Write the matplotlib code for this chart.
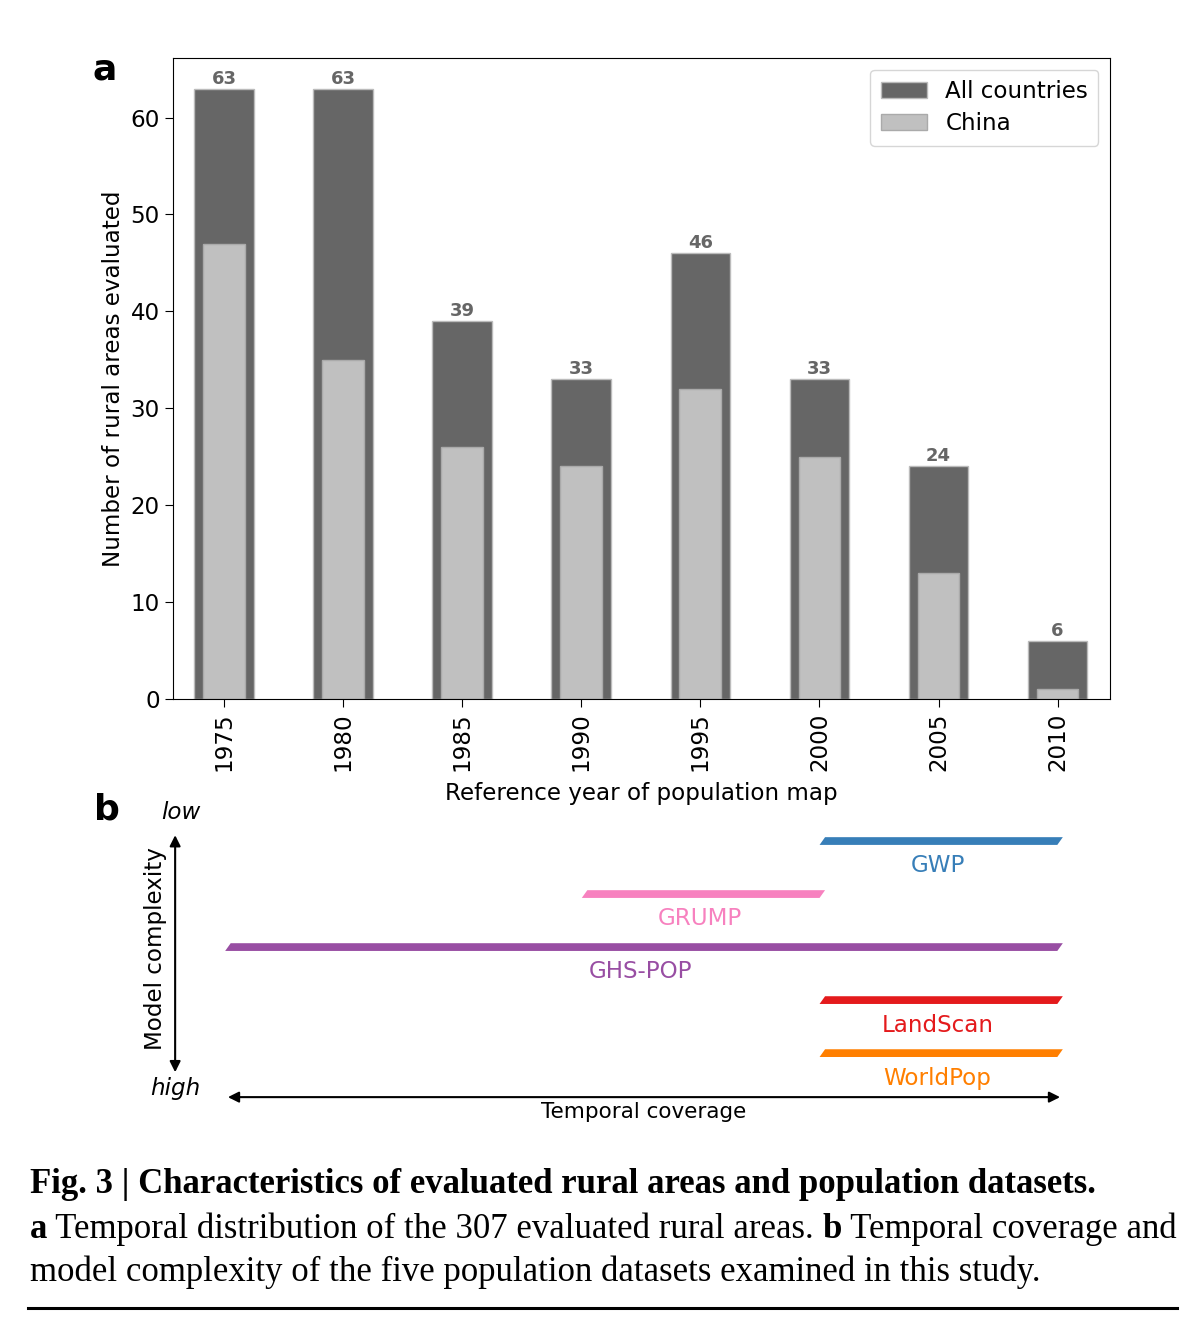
import matplotlib
matplotlib.use("Agg")
import matplotlib.pyplot as plt
from matplotlib.patches import Polygon

## データ
years = [1975, 1980, 1985, 1990, 1995, 2000, 2005, 2010]
all_countries = [63, 63, 39, 33, 46, 33, 24, 6]
china = [47, 35, 26, 24, 32, 25, 13, 1]

datasets = ["GWP", "GRUMP", "GHS-POP", "LandScan", "WorldPop"]
start_year = [2000, 1990, 1975, 2000, 2000]
end_year = [2010, 2000, 2010, 2010, 2010]
ds_colors = ["#377eb8", "#f781bf", "#984ea3", "#e41a1c", "#ff7f00"]

W, H = 1195, 1320
FS = 16.6
plt.rcParams["font.family"] = ["DejaVu Sans"]
fig = plt.figure(figsize=(W / 100, H / 100), dpi=100)

def box(l, t, r, b):
    return [l / W, 1 - b / H, (r - l) / W, (b - t) / H]

## パネル a
ax = fig.add_axes(box(173, 58, 1110, 699))
ax.bar(years, all_countries, width=2.5, color="#666666", edgecolor="#bbbbbb",
       linewidth=1, label="All countries")
ax.bar(years, china, width=1.75, color="#c0c0c0", edgecolor="#aaaaaa",
       linewidth=1, label="China")
for x, v in zip(years, all_countries):
    ax.text(x, v + 0.1, str(v), ha="center", va="bottom", fontsize=13,
            fontweight="bold", color="#666666")
ax.set_xlim(1972.86, 2012.2)
ax.set_ylim(0, 66.15)
ax.set_xticks(years)
ax.set_xticklabels([str(y) for y in years], rotation=90, fontsize=FS)
ax.tick_params(axis="y", labelsize=FS, length=6)
ax.tick_params(axis="x", length=6)
ax.set_yticks(range(0, 61, 10))
ax.set_xlabel("Reference year of population map", fontsize=FS, labelpad=8)
ax.set_ylabel("Number of rural areas evaluated", fontsize=FS)
ax.legend(loc="upper right", fontsize=FS, handlelength=2.0, borderpad=0.45,
          labelspacing=0.4)
fig.text(105 / W, 1 - 70 / H, "a", fontsize=26, fontweight="bold", ha="center", va="center")

## パネル b
bx = fig.add_axes(box(173, 800, 1110, 1130))
bx.set_xlim(1972.69, 2012.1)
bx.set_ylim(5.45, -0.774)
bx.axis("off")
slant = 0.116
thick = 0.073
for i, (name, s, e, c) in enumerate(zip(datasets, start_year, end_year, ds_colors)):
    pts = [(s - slant, i + thick), (e - slant, i + thick),
           (e + slant, i - thick), (s + slant, i - thick)]
    bx.add_patch(Polygon(pts, closed=True, facecolor=c, edgecolor="none"))
    bx.text((s + e) / 2 - 0.15, i + 0.47, name, color=c, fontsize=FS, ha="center", va="center")

arrow = dict(arrowstyle="<|-|>", color="black", lw=1.5, mutation_scale=16,
             shrinkA=0, shrinkB=0)
bx.annotate("", xy=(years[0], 4.83), xytext=(years[-1], 4.83), arrowprops=arrow,
            annotation_clip=False)
bx.annotate("", xy=(1972.78, -0.11), xytext=(1972.78, 4.36), arrowprops=arrow,
            annotation_clip=False)
bx.text((years[0] + years[-1]) / 2, 5.11, "Temporal coverage", fontsize=15.5,
        ha="center", va="center")
bx.text(1973.0, -0.53, "low", fontsize=FS, style="italic", ha="center", va="center")
bx.text(1972.8, 4.66, "high", fontsize=FS, style="italic", ha="center", va="center")
bx.text(1971.95, 2.02, "Model complexity", fontsize=FS, rotation=90,
        ha="center", va="center")
fig.text(107 / W, 1 - 810 / H, "b", fontsize=26, fontweight="bold", ha="center", va="center")

## キャプション
serif = ["Liberation Serif", "DejaVu Serif"]
cap_size = 25
renderer = fig.canvas.get_renderer()

def draw_line(parts, x0, y_px):
    x = x0
    for txt, weight in parts:
        t = fig.text(x / W, 1 - y_px / H, txt, fontsize=cap_size, fontweight=weight,
                     family=serif, ha="left", va="baseline")
        x += t.get_window_extent(renderer).width

draw_line([("Fig. 3 | Characteristics of evaluated rural areas and population datasets.", "bold")], 30, 1193)
draw_line([("a", "bold"), (" Temporal distribution of the 307 evaluated rural areas. ", "normal"),
           ("b", "bold"), (" Temporal coverage and", "normal")], 30, 1238)
draw_line([("model complexity of the five population datasets examined in this study.", "normal")], 30, 1281)
fig.add_artist(plt.Line2D([28 / W, 1177 / W], [1 - 1308 / H] * 2, color="black", lw=2.2))

fig.savefig("out.png", dpi=100)
